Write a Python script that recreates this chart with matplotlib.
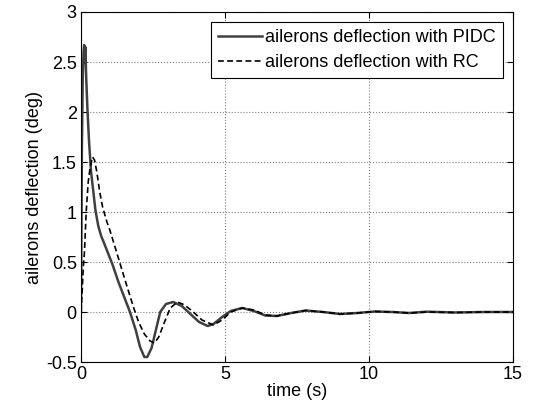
import matplotlib.pyplot as plt
from matplotlib.ticker import FuncFormatter

plt.rcParams['font.family'] = ['Liberation Sans', 'DejaVu Sans']
plt.rcParams['font.size'] = 13

# ailerons deflection with PIDC (solid)
t_pidc = [0, 0.01, 0.03, 0.06, 0.09, 0.11, 0.13, 0.15, 0.18, 0.22, 0.28, 0.35,
          0.43, 0.5, 0.6, 0.7, 0.8, 0.95, 1.1, 1.3, 1.5, 1.7, 1.9, 2.05, 2.2,
          2.3, 2.45, 2.6, 2.75, 2.95, 3.2, 3.5, 3.8, 4.1, 4.4, 4.6, 4.9, 5.2,
          5.6, 6.0, 6.4, 6.8, 7.3, 7.8, 8.4, 9.0, 9.6, 10.2, 10.8, 11.4, 12,
          13, 14, 15]
y_pidc = [0, 0.6, 1.6, 2.35, 2.6, 2.67, 2.5, 2.65, 2.35, 2.05, 1.7, 1.4,
          1.2, 1.02, 0.86, 0.76, 0.69, 0.58, 0.47, 0.3, 0.15, 0.0, -0.18, -0.35,
          -0.45, -0.45, -0.36, -0.18, 0.0, 0.08, 0.1, 0.06, -0.02, -0.1, -0.14,
          -0.12, -0.05, 0.01, 0.04, 0.01, -0.035, -0.04, -0.01, 0.015, 0.0,
          -0.02, -0.01, 0.005, 0.0, -0.01, 0.003, -0.005, 0.0, 0.0]

# ailerons deflection with RC (dashed)
t_rc = [0, 0.04, 0.08, 0.12, 0.18, 0.25, 0.32, 0.4, 0.47, 0.55, 0.65, 0.75,
        0.9, 1.0, 1.15, 1.35, 1.55, 1.82, 2.0, 2.2, 2.4, 2.55, 2.7, 2.9, 3.1,
        3.35, 3.6, 3.9, 4.2, 4.6, 4.9, 5.2, 5.6, 6.0, 6.4, 6.8, 7.3, 7.8, 8.4,
        9.0, 9.6, 10.2, 10.8, 11.4, 12, 13, 14, 15]
y_rc = [0, 0.2, 0.45, 0.6, 1.0, 1.3, 1.45, 1.55, 1.52, 1.4, 1.2, 1.05,
        0.9, 0.82, 0.68, 0.49, 0.3, 0.05, -0.1, -0.22, -0.29, -0.31, -0.25,
        -0.1, 0.04, 0.1, 0.07, 0.0, -0.08, -0.13, -0.08, 0.0, 0.04, 0.02,
        -0.03, -0.04, -0.01, 0.015, 0.0, -0.02, -0.01, 0.005, 0.0, -0.01,
        0.0, -0.005, 0.0, 0.0]

fig = plt.figure(figsize=(5.52, 4.15), dpi=100)
ax = fig.add_axes([81 / 552, 1 - 362 / 415, 432 / 552, 350 / 415])

ax.plot(t_pidc, y_pidc, color='#404040', lw=1.8, label='ailerons deflection with PIDC')
ax.plot(t_rc, y_rc, color='black', lw=1.2, ls=(0, (3.5, 2)), label='ailerons deflection with RC')

ax.set_xlim(0, 15)
ax.set_ylim(-0.5, 3)
ax.set_xticks([0, 5, 10, 15])
ax.set_yticks([-0.5, 0, 0.5, 1, 1.5, 2, 2.5, 3])
ax.yaxis.set_major_formatter(FuncFormatter(lambda v, p: '%g' % v))
ax.tick_params(direction='in', top=True, right=True, length=4, width=0.8, pad=3)
ax.grid(True, ls=':', color='#808080', lw=0.8)
for s in ax.spines.values():
    s.set_linewidth(0.8)

ax.set_xlabel('time (s)', labelpad=0)
ax.set_ylabel('ailerons deflection (deg)', labelpad=2)

leg = ax.legend(loc='upper right', fancybox=False, framealpha=1, edgecolor='black',
                borderaxespad=0.55, handlelength=2.4, handletextpad=0.2,
                borderpad=0.4, labelspacing=0.45)
leg.get_frame().set_linewidth(0.8)

fig.savefig('out.png', dpi=100)
